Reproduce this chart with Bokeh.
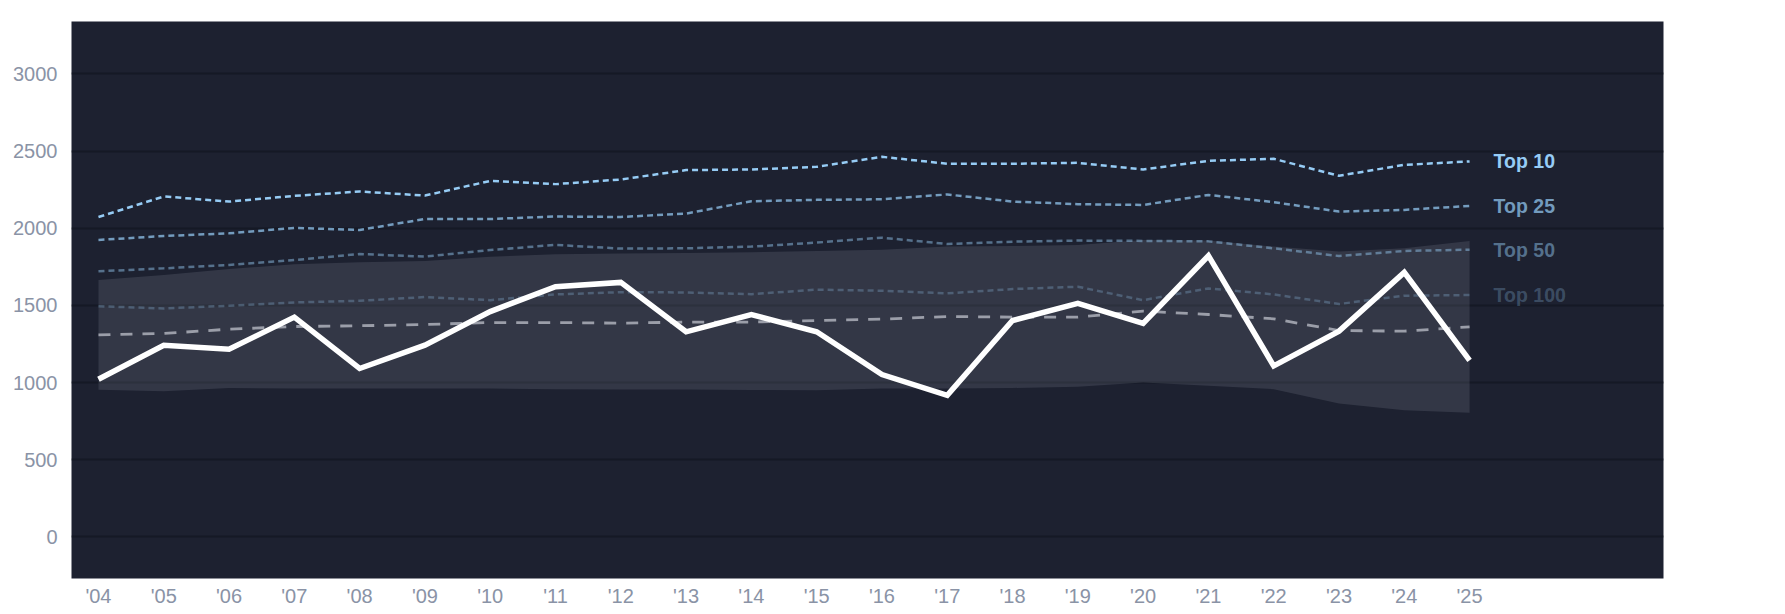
from bokeh.plotting import figure
from bokeh.models import Range1d, FixedTicker, ColumnDataSource
from bokeh.core.properties import value
from bokeh.embed import file_html
from bokeh.resources import INLINE

years = list(range(2004, 2026))
year_labels = ["'" + str(y)[2:] for y in years]

top10 = [2073, 2206, 2173, 2210, 2238, 2212, 2307, 2286, 2316, 2377, 2381,
         2398, 2463, 2418, 2418, 2424, 2381, 2437, 2450, 2340, 2411, 2433]
top25 = [1924, 1950, 1967, 2002, 1989, 2060, 2060, 2076, 2073, 2095, 2175,
         2184, 2188, 2219, 2173, 2156, 2151, 2216, 2169, 2108, 2119, 2145]
top50 = [1721, 1740, 1762, 1794, 1833, 1816, 1859, 1892, 1868, 1870, 1881,
         1907, 1939, 1898, 1913, 1920, 1918, 1915, 1870, 1820, 1853, 1861]
top100 = [1495, 1480, 1498, 1519, 1530, 1554, 1534, 1571, 1586, 1584, 1573,
          1602, 1595, 1578, 1606, 1621, 1534, 1610, 1571, 1509, 1563, 1567]
median = [1309, 1318, 1346, 1363, 1368, 1376, 1389, 1389, 1385, 1392, 1392,
          1402, 1411, 1428, 1424, 1424, 1463, 1441, 1413, 1337, 1333, 1361]
main_series = [1021, 1242, 1216, 1424, 1091, 1242, 1460, 1621, 1649, 1329, 1441,
               1329, 1052, 917, 1402, 1513, 1383, 1822, 1108, 1333, 1714, 1144]
band_upper = [1664, 1697, 1736, 1766, 1779, 1788, 1816, 1831, 1836, 1840, 1845,
              1852, 1860, 1881, 1885, 1892, 1924, 1920, 1881, 1850, 1870, 1918]
band_lower = [954, 943, 965, 961, 961, 961, 961, 957, 955, 955, 952,
              950, 961, 961, 965, 972, 1000, 979, 957, 864, 820, 805]

y_ticks = [0, 500, 1000, 1500, 2000, 2500, 3000]
tier_names = ["Top 10", "Top 25", "Top 50", "Top 100"]

BG = "#1d2130"
FONT = "Liberation Sans"

p = figure(width=1769, height=609, output_backend="svg", toolbar_location=None,
           x_range=Range1d(2003.587, 2027.97), y_range=Range1d(-270, 3340),
           min_border_left=71, min_border_right=106, min_border_top=21,
           min_border_bottom=20)
p.background_fill_color = BG
p.border_fill_color = "white"
p.outline_line_color = None

p.xgrid.visible = False
p.ygrid.grid_line_color = "#151925"
p.ygrid.grid_line_width = 2
p.yaxis.ticker = FixedTicker(ticks=y_ticks)
p.xaxis.ticker = FixedTicker(ticks=years)
p.xaxis.major_label_overrides = {y: l for y, l in zip(years, year_labels)}

for ax in (p.xaxis, p.yaxis):
    ax.axis_line_color = None
    ax.major_tick_line_color = None
    ax.minor_tick_line_color = None
    ax.major_tick_out = 0
    ax.major_tick_in = 0
    ax.major_label_text_font = FONT
    ax.major_label_text_font_size = "20px"
    ax.major_label_text_color = "#8a93a6"
p.yaxis.major_label_standoff = 14
p.xaxis.major_label_standoff = 6

src = ColumnDataSource(dict(x=years, lo=band_lower, hi=band_upper))
p.varea(x="x", y1="lo", y2="hi", source=src, fill_color="#8a90a0", fill_alpha=0.2)

tier_series = [top10, top25, top50, top100]
tier_alpha = [1.0, 0.72, 0.47, 0.27]
tier_color = "#96ccf5"
for ser, a in zip(tier_series, tier_alpha):
    p.line(years, ser, line_color=tier_color, line_alpha=a, line_width=2.5,
           line_dash="6 4")

p.line(years, median, line_color="#a6aab4", line_alpha=0.9, line_width=2.8,
       line_dash="12 10")
p.line(years, main_series, line_color="white", line_width=5.5, line_join="miter")

last_y = [s[-1] for s in tier_series]
for name, yv, a in zip(tier_names, last_y, tier_alpha):
    p.text(x=[years[-1]], y=[yv], text=[name], x_offset=24,
           text_baseline="middle", text_align="left",
           text_font=value(FONT), text_font_style="bold",
           text_font_size="19.5px", text_color=tier_color, text_alpha=a)

open("out.html", "w").write(file_html(p, INLINE))
